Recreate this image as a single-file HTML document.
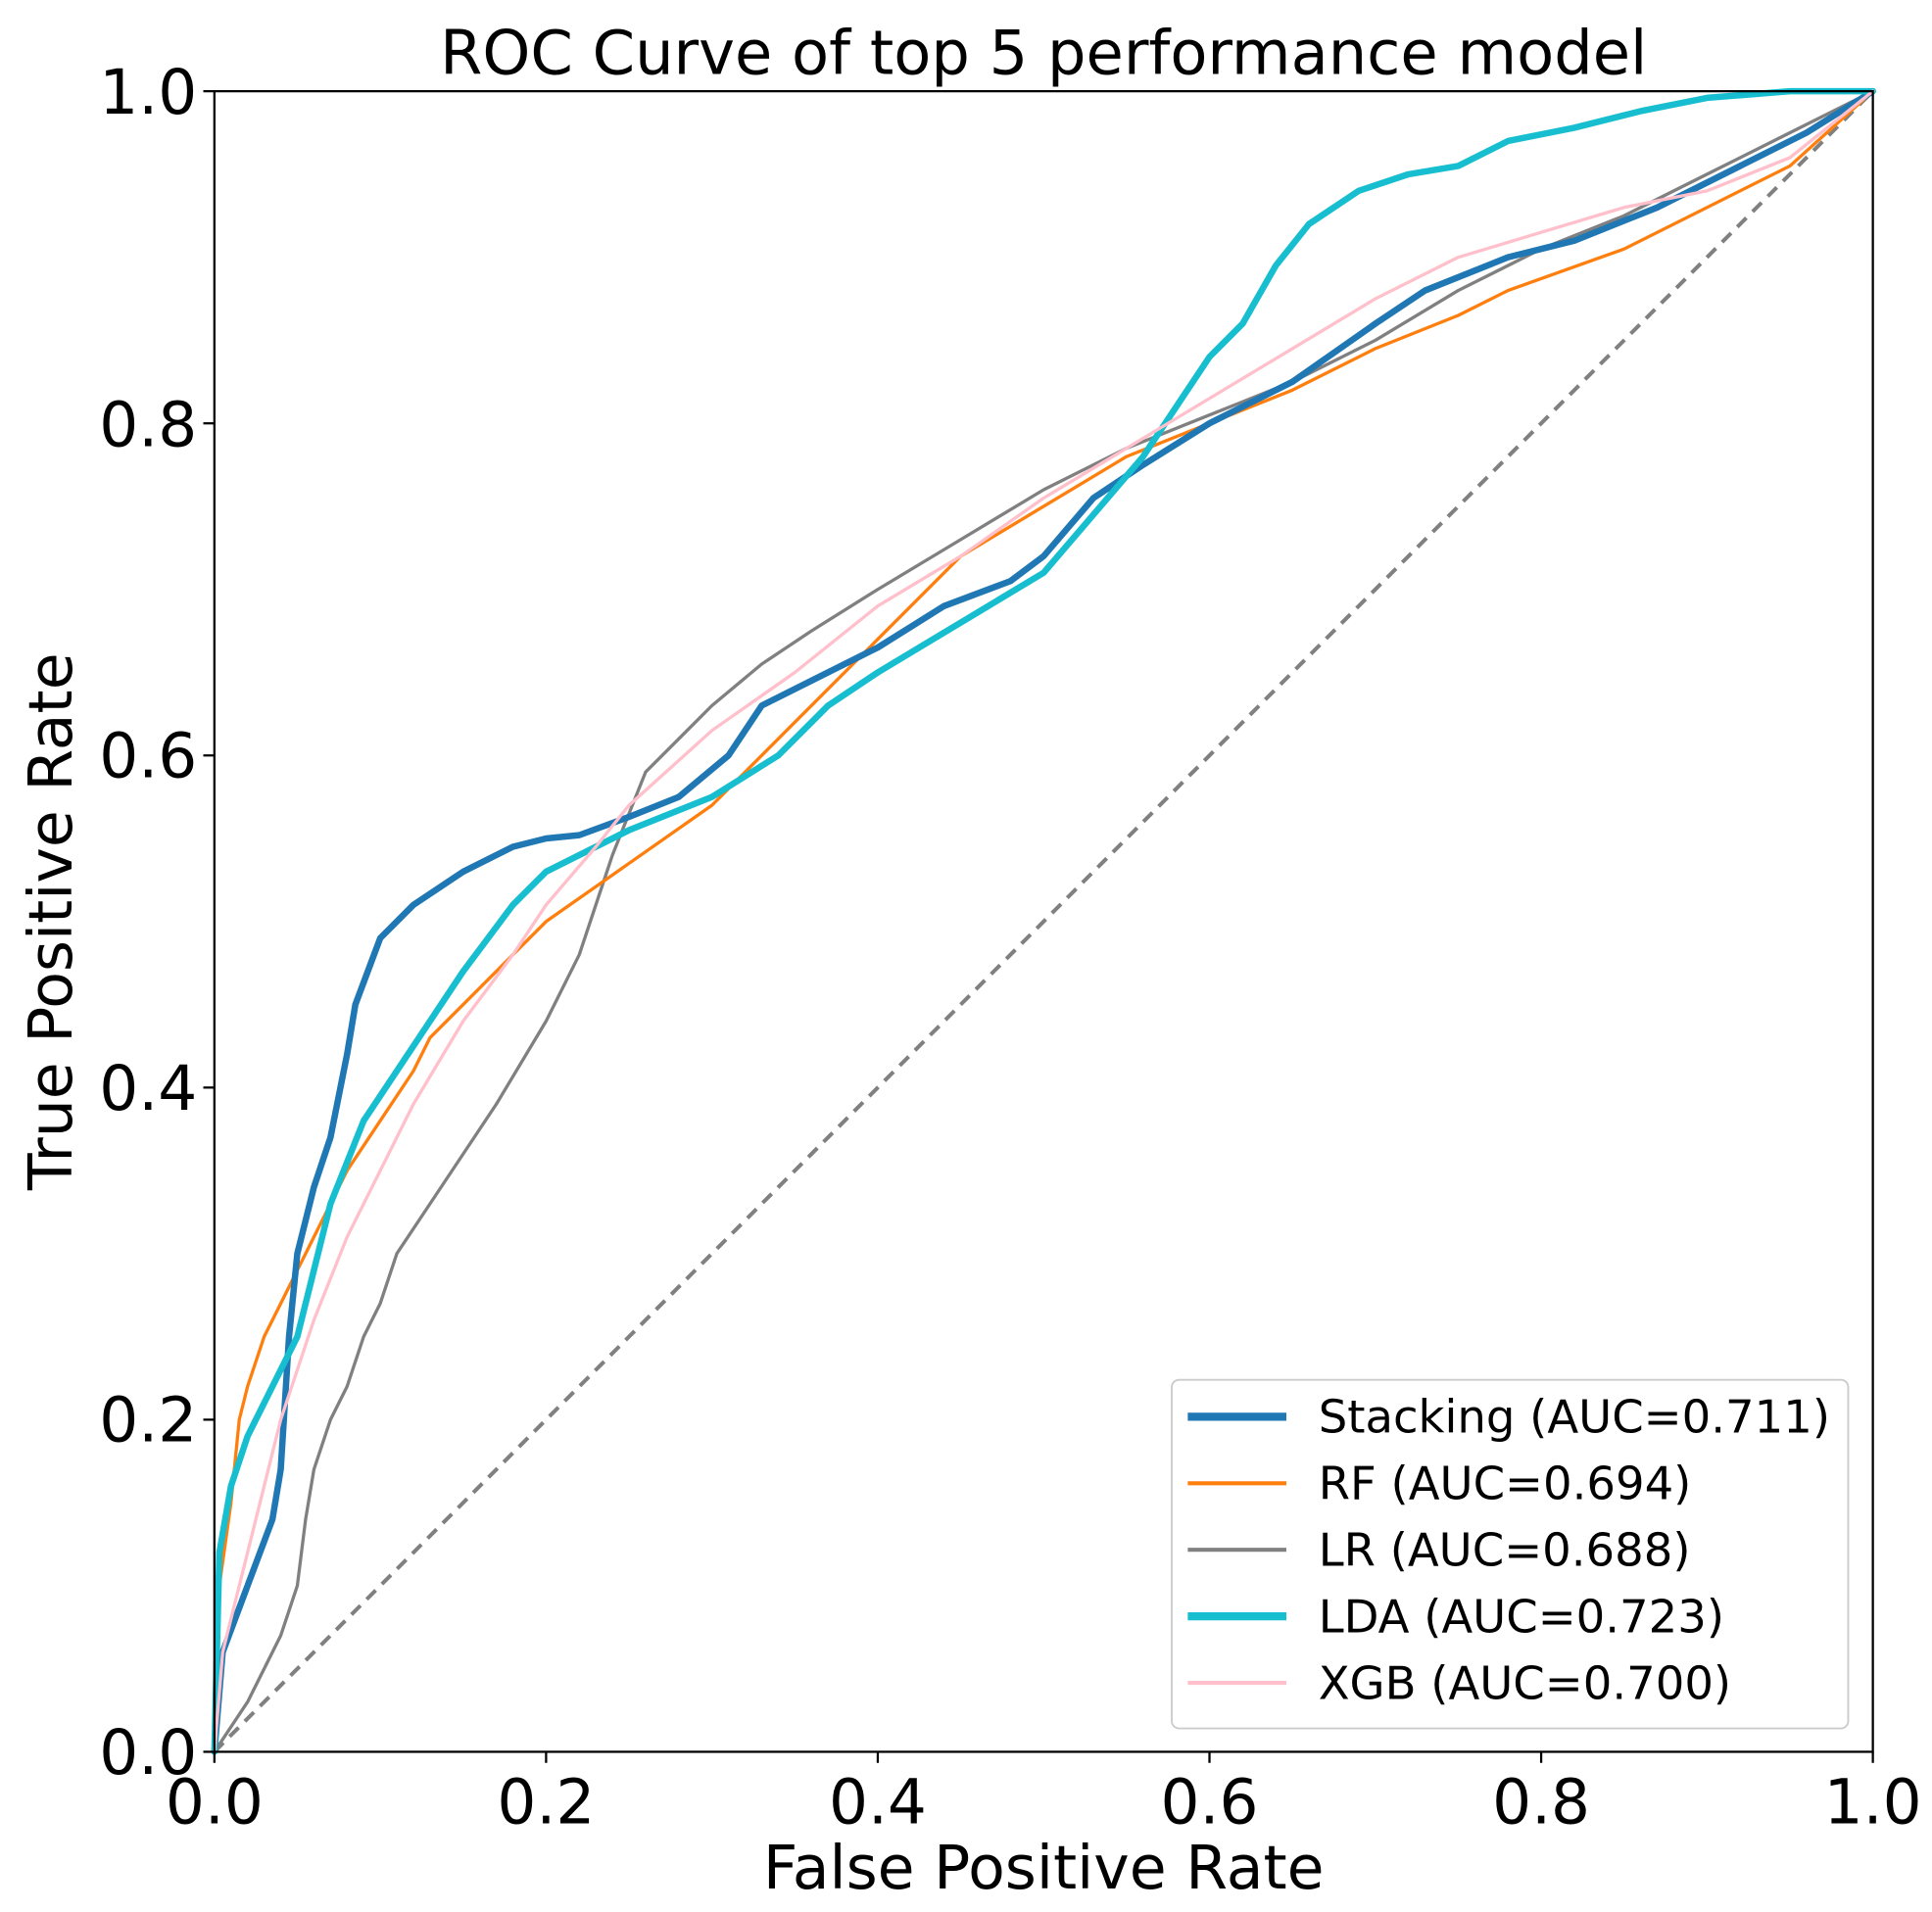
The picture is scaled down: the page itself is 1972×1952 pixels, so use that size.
<!DOCTYPE html>
<html><head><style>html,body{margin:0;padding:0;background:#fff}svg{display:block}</style></head>
<body>
<svg width="1972" height="1952" viewBox="0 0 1568 1552" xmlns="http://www.w3.org/2000/svg" font-family="'DejaVu Sans','Liberation Sans',sans-serif">
<rect width="1568" height="1552" fill="#fff"/>
<g transform="translate(174,1422) scale(1346,-1348)" fill="none" stroke-linejoin="round" stroke-linecap="round">
<polyline vector-effect="non-scaling-stroke" stroke="#808080" stroke-width="4" stroke-dasharray="13,9" stroke-linecap="butt" points="0,0 1,1"/>
<polyline vector-effect="non-scaling-stroke" stroke="#808080" stroke-width="3.3" points="0,0 0.02,0.03 0.04,0.07 0.05,0.1 0.055,0.14 0.06,0.17 0.07,0.2 0.08,0.22 0.09,0.25 0.1,0.27 0.11,0.3 0.13,0.33 0.15,0.36 0.17,0.39 0.2,0.44 0.22,0.48 0.24,0.54 0.26,0.59 0.28,0.61 0.3,0.63 0.33,0.655 0.36,0.675 0.4,0.7 0.45,0.73 0.5,0.76 0.55,0.785 0.6,0.805 0.65,0.825 0.7,0.85 0.75,0.88 0.8,0.905 0.85,0.925 0.9,0.95 0.95,0.975 1,1"/>
<polyline vector-effect="non-scaling-stroke" stroke="#ff7f0e" stroke-width="3.3" points="0,0 0.003,0.1 0.01,0.15 0.015,0.2 0.02,0.22 0.03,0.25 0.04,0.27 0.05,0.29 0.06,0.31 0.08,0.35 0.1,0.38 0.12,0.41 0.13,0.43 0.15,0.45 0.2,0.5 0.25,0.535 0.3,0.57 0.35,0.62 0.4,0.67 0.45,0.72 0.5,0.75 0.55,0.78 0.6,0.8 0.65,0.82 0.7,0.845 0.75,0.865 0.78,0.88 0.85,0.905 0.9,0.93 0.95,0.955 1,1"/>
<polyline vector-effect="non-scaling-stroke" stroke="#1f77b4" stroke-width="6.5" points="0,0 0.005,0.06 0.02,0.1 0.035,0.14 0.04,0.17 0.045,0.25 0.05,0.3 0.06,0.34 0.07,0.37 0.08,0.42 0.085,0.45 0.1,0.49 0.12,0.51 0.15,0.53 0.18,0.545 0.2,0.55 0.22,0.552 0.25,0.563 0.28,0.575 0.31,0.6 0.33,0.63 0.36,0.645 0.4,0.665 0.44,0.69 0.48,0.705 0.5,0.72 0.53,0.755 0.56,0.775 0.6,0.8 0.65,0.825 0.7,0.86 0.73,0.88 0.78,0.9 0.82,0.91 0.87,0.93 0.92,0.955 0.96,0.975 1,1"/>
<polyline vector-effect="non-scaling-stroke" stroke="#17becf" stroke-width="6.5" points="0,0 0.003,0.12 0.01,0.16 0.02,0.19 0.035,0.22 0.05,0.25 0.06,0.29 0.07,0.33 0.09,0.38 0.11,0.41 0.13,0.44 0.15,0.47 0.18,0.51 0.2,0.53 0.25,0.555 0.3,0.575 0.34,0.6 0.37,0.63 0.4,0.65 0.45,0.68 0.5,0.71 0.53,0.745 0.56,0.78 0.58,0.81 0.6,0.84 0.62,0.86 0.64,0.895 0.66,0.92 0.69,0.94 0.72,0.95 0.75,0.955 0.78,0.97 0.82,0.978 0.86,0.988 0.9,0.996 0.95,1 1,1"/>
<polyline vector-effect="non-scaling-stroke" stroke="#ffc0cb" stroke-width="3.3" points="0,0 0.005,0.06 0.02,0.12 0.04,0.2 0.06,0.26 0.08,0.31 0.1,0.35 0.12,0.39 0.15,0.44 0.18,0.48 0.2,0.51 0.23,0.545 0.25,0.57 0.3,0.615 0.35,0.65 0.4,0.69 0.45,0.72 0.5,0.755 0.55,0.785 0.6,0.815 0.65,0.845 0.7,0.875 0.75,0.9 0.8,0.915 0.85,0.93 0.9,0.94 0.95,0.96 1,1"/>
</g>
<rect x="174" y="74" width="1346" height="1348" fill="none" stroke="#000" stroke-width="1.8"/>
<g stroke="#000" stroke-width="1.8">
<line x1="174" y1="1422" x2="174" y2="1431"/><line x1="443.2" y1="1422" x2="443.2" y2="1431"/><line x1="712.4" y1="1422" x2="712.4" y2="1431"/><line x1="981.6" y1="1422" x2="981.6" y2="1431"/><line x1="1250.8" y1="1422" x2="1250.8" y2="1431"/><line x1="1520" y1="1422" x2="1520" y2="1431"/>
<line x1="165" y1="1422" x2="174" y2="1422"/><line x1="165" y1="1152.4" x2="174" y2="1152.4"/><line x1="165" y1="882.8" x2="174" y2="882.8"/><line x1="165" y1="613.2" x2="174" y2="613.2"/><line x1="165" y1="343.6" x2="174" y2="343.6"/><line x1="165" y1="74" x2="174" y2="74"/>
</g>
<g font-size="50" fill="#000" text-anchor="middle">
<text x="174" y="1480">0.0</text><text x="443.2" y="1480">0.2</text><text x="712.4" y="1480">0.4</text><text x="981.6" y="1480">0.6</text><text x="1250.8" y="1480">0.8</text><text x="1520" y="1480">1.0</text>
</g>
<g font-size="50" fill="#000" text-anchor="end">
<text x="160" y="1440">0.0</text><text x="160" y="1170">0.2</text><text x="160" y="901">0.4</text><text x="160" y="631">0.6</text><text x="160" y="362">0.8</text><text x="160" y="92">1.0</text>
</g>
<text x="847" y="1533" font-size="49" text-anchor="middle">False Positive Rate</text>
<text transform="translate(58,748) rotate(-90)" font-size="49" text-anchor="middle">True Positive Rate</text>
<text x="847" y="60" font-size="49.5" text-anchor="middle">ROC Curve of top 5 performance model</text>
<rect x="951" y="1120" width="549" height="283" rx="6" fill="#fff" fill-opacity="0.8" stroke="#ccc" stroke-width="1.5"/>
<g stroke-linecap="butt">
<line x1="964" y1="1150" x2="1044" y2="1150" stroke="#1f77b4" stroke-width="6.5"/>
<line x1="964" y1="1204" x2="1044" y2="1204" stroke="#ff7f0e" stroke-width="3.3"/>
<line x1="964" y1="1258" x2="1044" y2="1258" stroke="#808080" stroke-width="3.3"/>
<line x1="964" y1="1312" x2="1044" y2="1312" stroke="#17becf" stroke-width="6.5"/>
<line x1="964" y1="1366" x2="1044" y2="1366" stroke="#ffc0cb" stroke-width="3.3"/>
</g>
<g font-size="37" fill="#000">
<text x="1070" y="1163">Stacking (AUC=0.711)</text>
<text x="1070" y="1217">RF (AUC=0.694)</text>
<text x="1070" y="1271">LR (AUC=0.688)</text>
<text x="1070" y="1325">LDA (AUC=0.723)</text>
<text x="1070" y="1379">XGB (AUC=0.700)</text>
</g>
</svg>
</body></html>
